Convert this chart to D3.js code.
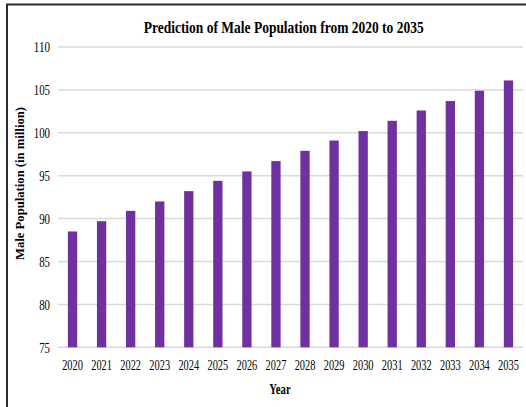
<!DOCTYPE html>
<html>
<head>
<meta charset="utf-8">
<script src="https://cdn.jsdelivr.net/npm/d3@7"></script>
<style>
  html, body { margin: 0; padding: 0; background: #fff; }
  svg { display: block; }
  svg text { font-family: "Liberation Serif", "Times New Roman", serif !important; fill: #000; }
</style>
</head>
<body>
<svg id="chart" width="526" height="407"></svg>
<script>
// Projected male population (millions), 2020–2035
const years = ["2020","2021","2022","2023","2024","2025","2026","2027",
               "2028","2029","2030","2031","2032","2033","2034","2035"];
const malePopulation = [88.5, 89.7, 90.9, 92.0, 93.2, 94.4, 95.5, 96.7,
                        97.9, 99.1, 100.2, 101.4, 102.6, 103.7, 104.9, 106.1];
const yTicks = [75, 80, 85, 90, 95, 100, 105, 110];

const titleText = "Prediction of Male Population from 2020 to 2035";
const xTitle = "Year";
const yTitle = "Male Population (in million)";

const svg = d3.select("#chart");
const W = 526, H = 407;

// Frame around the chart area
svg.append("line")
  .attr("x1", 6).attr("x2", W).attr("y1", 4.5).attr("y2", 4.5)
  .attr("stroke", "#2b2b2b").attr("stroke-width", 2);
svg.append("line")
  .attr("x1", 7).attr("x2", 7).attr("y1", 4).attr("y2", H)
  .attr("stroke", "#2b2b2b").attr("stroke-width", 2);

const plot = { left: 58, right: 523, top: 47, bottom: 347.3 };

const x = d3.scaleBand()
  .domain(years)
  .range([plot.left, plot.right])
  .paddingInner(0.68)
  .paddingOuter(0.34);

const y = d3.scaleLinear()
  .domain([75, 110])
  .range([plot.bottom, plot.top]);

// Horizontal gridlines
svg.append("g")
  .selectAll("line")
  .data(yTicks)
  .join("line")
  .attr("x1", plot.left).attr("x2", plot.right)
  .attr("y1", d => y(d)).attr("y2", d => y(d))
  .attr("stroke", "#d9d9d9").attr("stroke-width", 1.5);

// Bars
svg.append("g")
  .selectAll("rect")
  .data(years)
  .join("rect")
  .attr("x", d => x(d))
  .attr("width", x.bandwidth())
  .attr("y", (d, i) => y(malePopulation[i]))
  .attr("height", (d, i) => y(75) - y(malePopulation[i]))
  .attr("fill", "#7030a0");

// Y axis labels
const yAxis = svg.append("g")
  .attr("transform", `translate(${plot.left - 8},0)`)
  .call(d3.axisLeft(y).tickValues(yTicks).tickSize(0).tickPadding(0));
yAxis.select(".domain").remove();
yAxis.selectAll("text")
  .style("font-size", "14.5px")
  .attr("dy", "0.34em")
  .attr("textLength", d => String(d).length * 5.4)
  .attr("lengthAdjust", "spacingAndGlyphs");

// X axis labels
const xAxis = svg.append("g")
  .attr("transform", `translate(0,${plot.bottom})`)
  .call(d3.axisBottom(x).tickSize(0).tickPadding(0));
xAxis.select(".domain").remove();
xAxis.selectAll("text")
  .style("font-size", "14.5px")
  .attr("dy", null)
  .attr("y", 22.7)
  .attr("textLength", 20.7)
  .attr("lengthAdjust", "spacingAndGlyphs");

// Title
svg.append("text")
  .attr("x", 283.7).attr("y", 32.5)
  .attr("text-anchor", "middle")
  .style("font-size", "16px")
  .style("font-weight", "bold")
  .attr("textLength", 280)
  .attr("lengthAdjust", "spacingAndGlyphs")
  .text(titleText);

// Axis titles
svg.append("text")
  .attr("x", 280).attr("y", 394)
  .attr("text-anchor", "middle")
  .style("font-size", "15px")
  .style("font-weight", "bold")
  .attr("textLength", 21.3)
  .attr("lengthAdjust", "spacingAndGlyphs")
  .text(xTitle);

svg.append("text")
  .attr("transform", "translate(24,183.5) rotate(-90)")
  .attr("text-anchor", "middle")
  .style("font-size", "13px")
  .style("font-weight", "bold")
  .attr("textLength", 153)
  .attr("lengthAdjust", "spacingAndGlyphs")
  .text(yTitle);
</script>
</body>
</html>
